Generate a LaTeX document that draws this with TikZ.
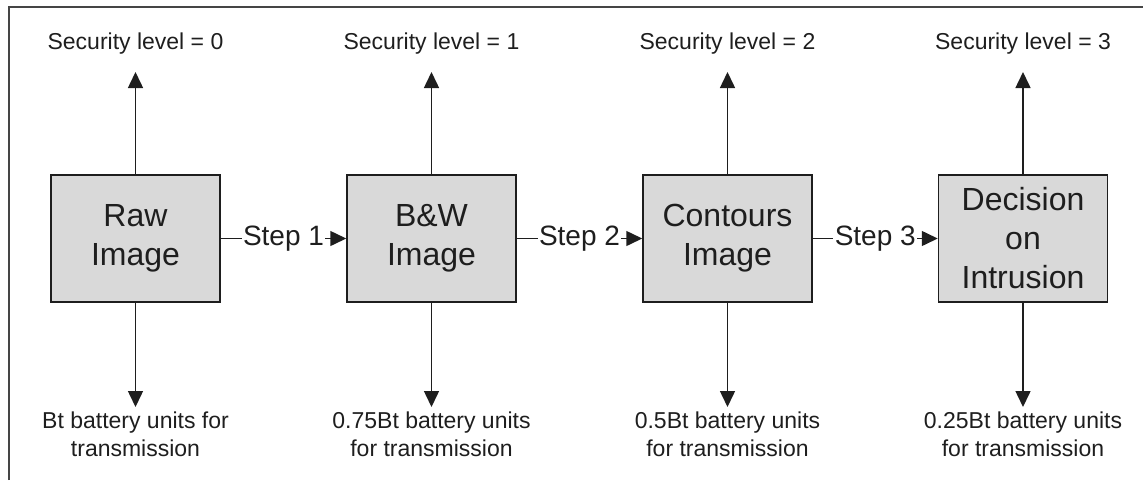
\documentclass[tikz,border=0pt]{standalone}
\usepackage{fontspec}
\setmainfont{Liberation Sans}
\usetikzlibrary{arrows.meta}
\definecolor{boxfill}{HTML}{D9D9D9}
\definecolor{ink}{HTML}{1E1E1E}
\definecolor{frame}{HTML}{454545}
\begin{document}
\begin{tikzpicture}[x=1pt,y=-1pt,
  stage/.style={draw=ink, fill=boxfill, line width=1.5pt, minimum width=169pt, minimum height=127pt,
    inner sep=0pt, align=center, text=ink, font=\fontsize{32}{39}\selectfont},
  toplabel/.style={anchor=base, inner sep=0pt, text=ink, font=\fontsize{23}{28}\selectfont},
  botlabel/.style={anchor=north, inner sep=0pt, align=center, text=ink, font=\fontsize{23}{28}\selectfont},
  steplabel/.style={fill=white, inner sep=1.5pt, text=ink, font=\fontsize{28}{32}\selectfont},
  conn/.style={draw=ink, line width=1.5pt, -{Triangle[length=16pt,width=15pt]}}
]
\useasboundingbox (0,0) rectangle (1143,480);
\draw[frame, line width=2pt] (9,480) -- (9,7) -- (1143,7);

\node[stage] (s0) at (135.5,238.5) {Raw\\Image};
\node[stage] (s1) at (431.5,238.5) {B\&W\\Image};
\node[stage] (s2) at (727.5,238.5) {Contours\\Image};
\node[stage] (s3) at (1023,238.5) {Decision\\on\\Intrusion};

\foreach \i/\x/\lev/\bat in {0/135.5/0/Bt battery units for\\transmission,
                             1/431.5/1/0.75Bt battery units\\for transmission,
                             2/727.5/2/0.5Bt battery units\\for transmission,
                             3/1023/3/0.25Bt battery units\\for transmission}{
  \coordinate (u\i) at (\x,72);
  \coordinate (d\i) at (\x,407);
  \node[toplabel] (t\i) at (\x,49) {Security level = \lev};
  \node[botlabel] (b\i) at (\x,412) {\bat};
  \draw[conn] (s\i.north) -- (u\i);
  \draw[conn] (s\i.south) -- (d\i);
}

\draw[conn] (s0.east) -- node[steplabel] (l1) {Step 1} (s1.west);
\draw[conn] (s1.east) -- node[steplabel] (l2) {Step 2} (s2.west);
\draw[conn] (s2.east) -- node[steplabel] (l3) {Step 3} (s3.west);
\end{tikzpicture}
\end{document}
